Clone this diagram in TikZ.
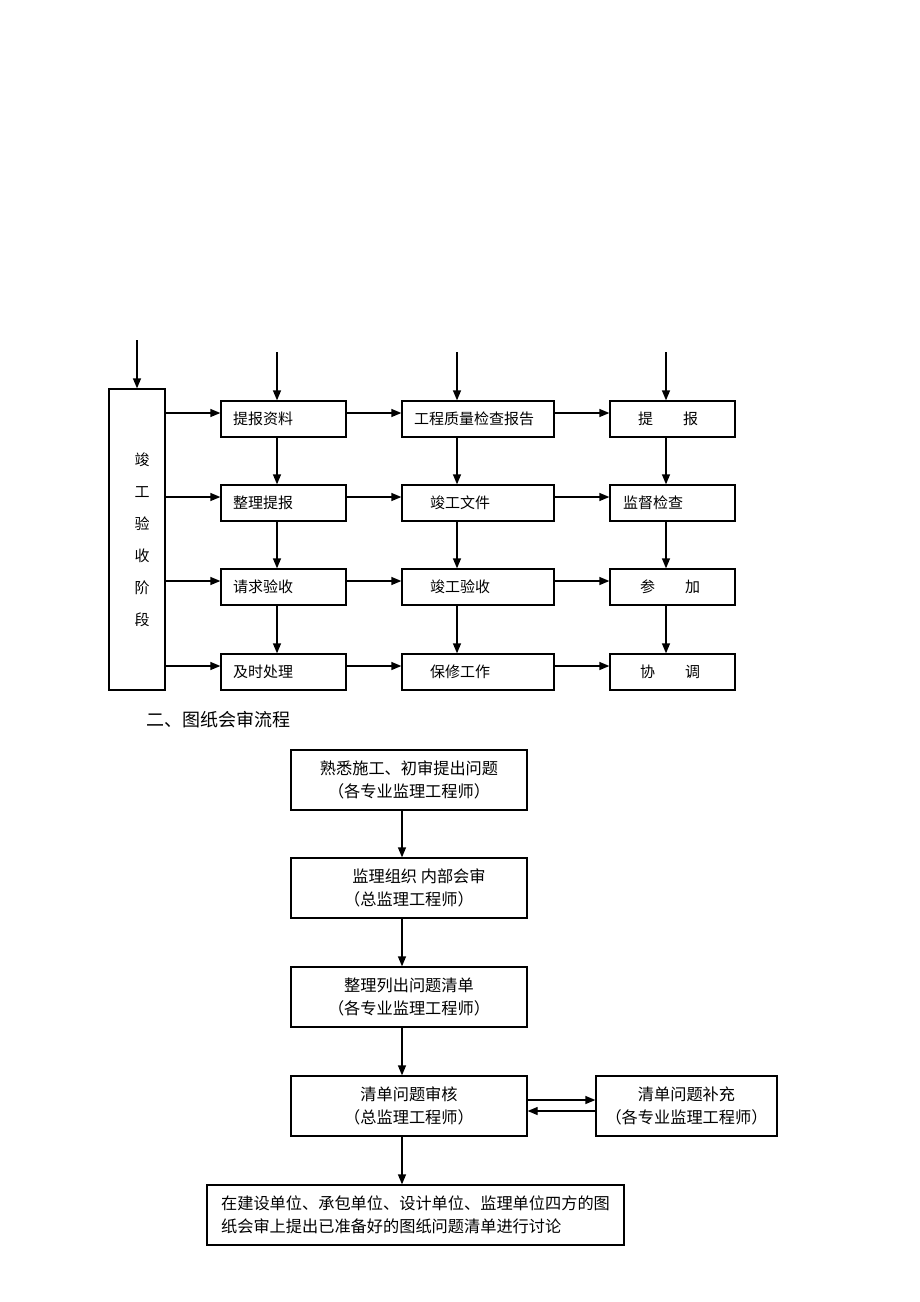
\documentclass[tikz,border=0pt]{standalone}
\usepackage{fontspec}
\setmainfont{Noto Sans CJK SC}
\usetikzlibrary{arrows.meta,calc}
\begin{document}
\begin{tikzpicture}[x=1pt,y=-1pt,line width=1.3pt,
  arr/.style={-{Triangle[length=10pt,width=8pt]}},
  cbox/.style={draw,minimum height=36pt,inner xsep=0pt,inner ysep=0pt,align=left,font=\fontsize{15}{18}\selectfont},
  tbox/.style={draw,minimum height=60pt,align=center,inner sep=0pt,font=\fontsize{16.2}{23}\selectfont}]
\useasboundingbox[fill=white] (0,0) rectangle (920,1302);
% ---- part 1 ----
\node[draw,minimum width=56pt,minimum height=301pt,inner sep=0pt] (T) at (137,539.5) {};
\node[font=\fontsize{15}{32}\selectfont,align=center,inner sep=0pt] (Tt) at (142,540) {竣\\工\\验\\收\\阶\\段};
% column 1
\node[cbox,text width=125pt] (a1) at (283.5,419) {\hspace*{12pt}提报资料};
\node[cbox,text width=125pt] (a2) at (283.5,503) {\hspace*{12pt}整理提报};
\node[cbox,text width=125pt] (a3) at (283.5,587) {\hspace*{12pt}请求验收};
\node[cbox,text width=125pt] (a4) at (283.5,672) {\hspace*{12pt}及时处理};
% column 2
\node[cbox,text width=152pt] (b1) at (478,419) {\hspace*{12pt}工程质量检查报告};
\node[cbox,text width=152pt] (b2) at (478,503) {\hspace*{28pt}竣工文件};
\node[cbox,text width=152pt] (b3) at (478,587) {\hspace*{28pt}竣工验收};
\node[cbox,text width=152pt] (b4) at (478,672) {\hspace*{28pt}保修工作};
% column 3
\node[cbox,text width=125pt] (c1) at (672.5,419) {\hspace*{28pt}提　　报};
\node[cbox,text width=125pt] (c2) at (672.5,503) {\hspace*{13pt}监督检查};
\node[cbox,text width=125pt] (c3) at (672.5,587) {\hspace*{30pt}参　　加};
\node[cbox,text width=125pt] (c4) at (672.5,672) {\hspace*{30pt}协　　调};
% top arrows
\coordinate (tT) at (137,340);
\coordinate (t1) at (277,352);
\coordinate (t2) at (457,352);
\coordinate (t3) at (666,352);
\draw[arr] (tT) -- (T.north);
\draw[arr] (t1) -- (t1 |- a1.north);
\draw[arr] (t2) -- (t2 |- b1.north);
\draw[arr] (t3) -- (t3 |- c1.north);
% vertical arrows
\foreach \u/\v in {1/2,2/3,3/4}{
  \draw[arr] (t1 |- a\u.south) -- (t1 |- a\v.north);
  \draw[arr] (t2 |- b\u.south) -- (t2 |- b\v.north);
  \draw[arr] (t3 |- c\u.south) -- (t3 |- c\v.north);
}
% horizontal arrows
\coordinate (r1) at (0,413);
\coordinate (r2) at (0,497);
\coordinate (r3) at (0,581);
\coordinate (r4) at (0,666);
\foreach \k in {1,2,3,4}{
  \draw[arr] (T.east |- r\k) -- (a\k.west |- r\k);
  \draw[arr] (a\k.east |- r\k) -- (b\k.west |- r\k);
  \draw[arr] (b\k.east |- r\k) -- (c\k.west |- r\k);
}
% ---- part 2 ----
\node[anchor=west,font=\fontsize{18}{20}\selectfont,inner sep=0pt] (h) at (146,720) {二、图纸会审流程};
\node[tbox,minimum width=236pt] (p1) at (409,780) {熟悉施工、初审提出问题\\（各专业监理工程师）};
\node[tbox,minimum width=236pt] (p2) at (409,888) {\hspace*{20pt}监理组织\ 内部会审\\（总监理工程师）};
\node[tbox,minimum width=236pt] (p3) at (409,997) {整理列出问题清单\\（各专业监理工程师）};
\node[tbox,minimum width=236pt] (p4) at (409,1106) {清单问题审核\\（总监理工程师）};
\node[tbox,minimum width=181pt] (p5) at (686.5,1106) {清单问题补充\\（各专业监理工程师）};
\node[tbox,minimum width=417pt,align=left] (p6) at (415.5,1215) {在建设单位、承包单位、设计单位、监理单位四方的图\\纸会审上提出已准备好的图纸问题清单进行讨论};
\coordinate (s) at (402,0);
\draw[arr] (p1.south -| s) -- (p2.north -| s);
\draw[arr] (p2.south -| s) -- (p3.north -| s);
\draw[arr] (p3.south -| s) -- (p4.north -| s);
\draw[arr] (p4.south -| s) -- (p6.north -| s);
\coordinate (q1) at (0,1100);
\coordinate (q2) at (0,1111);
\draw[arr] (p4.east |- q1) -- (p5.west |- q1);
\draw[arr] (p5.west |- q2) -- (p4.east |- q2);
\end{tikzpicture}
\end{document}
